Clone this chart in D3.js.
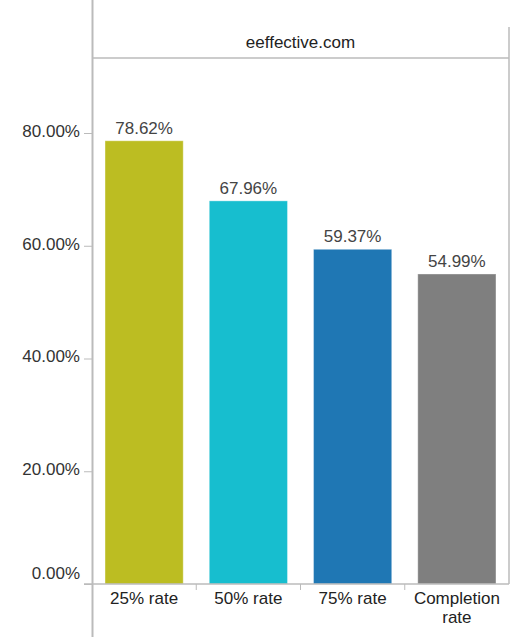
<!DOCTYPE html>
<html>
<head>
<meta charset="utf-8">
<script src="https://cdn.jsdelivr.net/npm/d3@7"></script>
<style>
  body { margin: 0; background: #fff; }
  svg { font-family: "Liberation Sans", Arial, sans-serif; }
</style>
</head>
<body>
<div id="chart"></div>
<script>
const categories = ["25% rate", "50% rate", "75% rate", "Completion rate"];
const rates = [0.7862, 0.6796, 0.5937, 0.5499];
const barColors = ["#bcbd22", "#17becf", "#1f77b4", "#7f7f7f"];
const yTicks = [0, 0.2, 0.4, 0.6, 0.8];
const facetTitle = "eeffective.com";

function drawBars(targetId) {
    const width = 510;
    const height = 637;
    const left = 92, right = 509, top = 58, bottom = 584;
    const lineColor = "#bbbbbb";
    const fs = 17;

    const svg = d3.select("#" + targetId).append("svg")
        .attr("width", width)
        .attr("height", height);

    const x = d3.scaleBand()
        .domain(categories)
        .range([left, right])
        .paddingInner(0.25)
        .paddingOuter(0.125);

    const y = d3.scaleLinear()
        .domain([0, 0.8])
        .range([bottom, 133]);

    // facet header and frame
    svg.append("line")
        .attr("x1", left).attr("x2", right)
        .attr("y1", top).attr("y2", top)
        .attr("stroke", lineColor).attr("stroke-width", 1.5);
    svg.append("line")
        .attr("x1", right).attr("x2", right)
        .attr("y1", 27).attr("y2", bottom)
        .attr("stroke", lineColor).attr("stroke-width", 1.5);
    svg.append("text")
        .attr("x", (left + right) / 2)
        .attr("y", 48)
        .attr("text-anchor", "middle")
        .attr("font-size", fs)
        .attr("fill", "#222")
        .text(facetTitle);

    // y axis
    const yAxis = svg.append("g")
        .attr("transform", `translate(${left},0)`)
        .call(d3.axisLeft(y).tickValues(yTicks).tickFormat(d3.format(".2%")).tickSize(8).tickPadding(4));
    yAxis.select(".domain").remove();
    yAxis.selectAll(".tick line").attr("stroke", lineColor);
    yAxis.selectAll(".tick text")
        .attr("font-size", fs)
        .attr("font-family", "Liberation Sans, Arial, sans-serif")
        .attr("fill", "#333")
        // the zero label sits raised above the baseline
        .attr("y", d => d === 0 ? -11 : -2);

    // bars
    svg.selectAll("rect.bar")
        .data(rates)
        .enter()
        .append("rect")
        .attr("class", "bar")
        .attr("x", (d, i) => x(categories[i]))
        .attr("y", d => y(d))
        .attr("width", x.bandwidth())
        .attr("height", d => y(0) - y(d))
        .attr("fill", (d, i) => barColors[i])
        .attr("stroke", "#ffffff")
        .attr("stroke-opacity", 0.35)
        .attr("stroke-width", 1);

    // value labels
    svg.selectAll("text.value")
        .data(rates)
        .enter()
        .append("text")
        .attr("class", "value")
        .attr("x", (d, i) => x(categories[i]) + x.bandwidth() / 2)
        .attr("y", d => y(d) - 7)
        .attr("text-anchor", "middle")
        .attr("font-size", fs)
        .attr("fill", "#444")
        .text(d => d3.format(".2%")(d));

    // x axis line and separators
    svg.append("line")
        .attr("x1", left - 8).attr("x2", right)
        .attr("y1", bottom).attr("y2", bottom)
        .attr("stroke", lineColor).attr("stroke-width", 1.5);
    categories.slice(1).forEach((c) => {
        const bx = x(c) - x.step() * x.paddingInner() / 2;
        svg.append("line")
            .attr("x1", bx).attr("x2", bx)
            .attr("y1", bottom).attr("y2", bottom + 6)
            .attr("stroke", lineColor);
    });

    // category labels, wrapped on words when too long
    categories.forEach((c) => {
        const t = svg.append("text")
            .attr("x", x(c) + x.bandwidth() / 2)
            .attr("y", 604)
            .attr("text-anchor", "middle")
            .attr("font-size", fs)
            .attr("fill", "#222");
        const words = c.split(" ");
        const lines = c.length > 10 ? words : [c];
        lines.forEach((w, k) => {
            t.append("tspan")
                .attr("x", x(c) + x.bandwidth() / 2)
                .attr("dy", k === 0 ? 0 : 19)
                .text(w);
        });
    });

    // left vertical rule
    svg.append("line")
        .attr("x1", left + 0.5).attr("x2", left + 0.5)
        .attr("y1", 0).attr("y2", height)
        .attr("stroke", lineColor).attr("stroke-width", 2);
}

drawBars("chart");
</script>
</body>
</html>
